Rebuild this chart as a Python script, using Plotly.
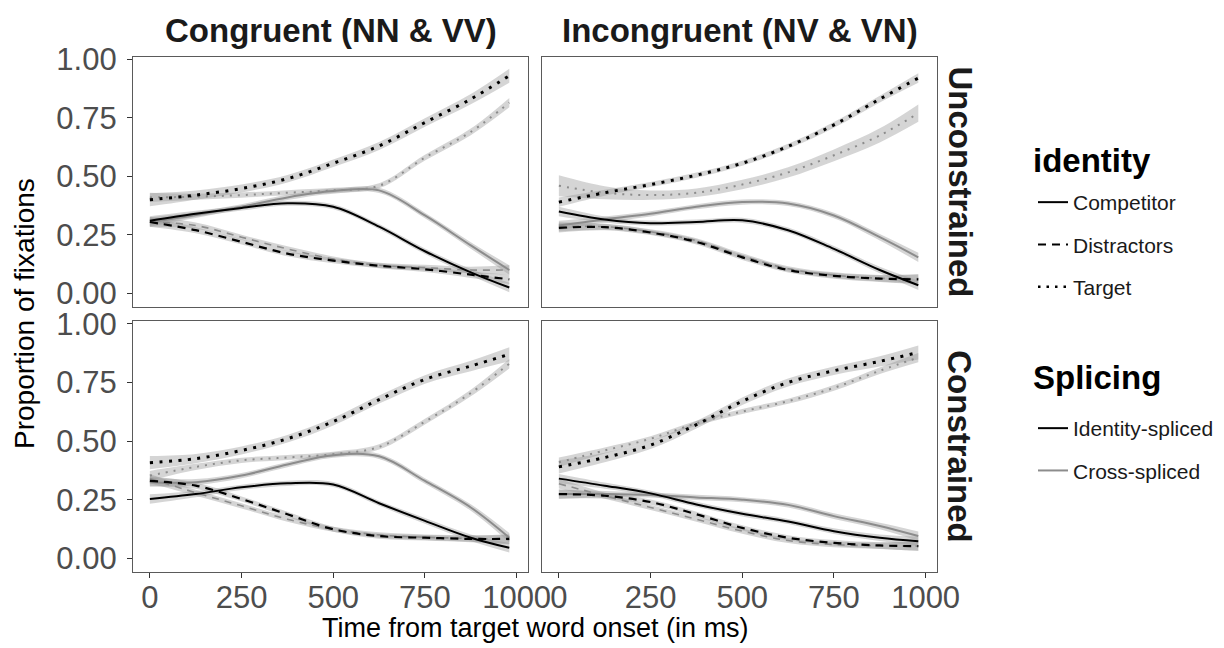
import plotly.graph_objects as go

# ---------------- data ----------------
time_ms = [0, 125, 250, 375, 500, 625, 750, 875, 980]

col_labels = ["Congruent (NN & VV)", "Incongruent (NV & VN)"]
row_labels = ["Unconstrained", "Constrained"]
identity_levels = ["Competitor", "Distractors", "Target"]
splicing_levels = ["Identity-spliced", "Cross-spliced"]

x_ticks = [0, 250, 500, 750, 1000]
x_tick_text = ["0", "250", "500", "750", "1000"]
y_ticks = [0, 0.25, 0.5, 0.75, 1.0]
y_tick_text = ["0.00", "0.25", "0.50", "0.75", "1.00"]

# Congruent / Unconstrained
cong_unc_target_id = [0.40, 0.42, 0.448, 0.49, 0.556, 0.63, 0.73, 0.83, 0.93]
cong_unc_target_cross = [0.41, 0.413, 0.42, 0.43, 0.44, 0.46, 0.58, 0.69, 0.815]
cong_unc_comp_id = [0.31, 0.34, 0.365, 0.385, 0.37, 0.285, 0.18, 0.09, 0.025]
cong_unc_comp_cross = [0.305, 0.335, 0.37, 0.41, 0.437, 0.44, 0.333, 0.205, 0.10]
cong_unc_dist_id = [0.305, 0.27, 0.22, 0.17, 0.14, 0.118, 0.103, 0.08, 0.06]
cong_unc_dist_cross = [0.305, 0.29, 0.24, 0.19, 0.147, 0.12, 0.11, 0.10, 0.10]

# Incongruent / Unconstrained
inc_unc_target_id = [0.39, 0.43, 0.465, 0.505, 0.556, 0.628, 0.72, 0.83, 0.92]
inc_unc_target_cross = [0.46, 0.43, 0.42, 0.43, 0.465, 0.517, 0.59, 0.675, 0.77]
inc_unc_comp_id = [0.35, 0.316, 0.30, 0.305, 0.312, 0.27, 0.19, 0.10, 0.035]
inc_unc_comp_cross = [0.29, 0.316, 0.34, 0.37, 0.39, 0.384, 0.333, 0.24, 0.154]
inc_unc_dist_id = [0.28, 0.283, 0.26, 0.22, 0.154, 0.10, 0.075, 0.063, 0.06]
inc_unc_dist_cross = [0.284, 0.285, 0.263, 0.225, 0.16, 0.105, 0.078, 0.065, 0.063]

# Congruent / Constrained
cong_con_target_id = [0.408, 0.425, 0.46, 0.51, 0.583, 0.677, 0.763, 0.82, 0.87]
cong_con_target_cross = [0.353, 0.39, 0.418, 0.43, 0.444, 0.475, 0.583, 0.705, 0.83]
cong_con_comp_id = [0.253, 0.274, 0.303, 0.32, 0.315, 0.235, 0.16, 0.088, 0.045]
cong_con_comp_cross = [0.325, 0.325, 0.353, 0.40, 0.44, 0.435, 0.33, 0.217, 0.088]
cong_con_dist_id = [0.33, 0.31, 0.253, 0.188, 0.124, 0.095, 0.088, 0.083, 0.083]
cong_con_dist_cross = [0.34, 0.28, 0.224, 0.167, 0.124, 0.10, 0.09, 0.085, 0.08]

# Incongruent / Constrained
inc_con_target_id = [0.39, 0.43, 0.483, 0.57, 0.67, 0.75, 0.80, 0.84, 0.878]
inc_con_target_cross = [0.41, 0.46, 0.51, 0.576, 0.626, 0.67, 0.727, 0.80, 0.856]
inc_con_comp_id = [0.34, 0.31, 0.277, 0.23, 0.19, 0.157, 0.116, 0.088, 0.073]
inc_con_comp_cross = [0.274, 0.274, 0.27, 0.26, 0.25, 0.228, 0.18, 0.138, 0.095]
inc_con_dist_id = [0.274, 0.267, 0.24, 0.188, 0.13, 0.088, 0.066, 0.055, 0.052]
inc_con_dist_cross = [0.318, 0.267, 0.217, 0.167, 0.116, 0.076, 0.059, 0.054, 0.052]

# standard-error ribbons (half widths)
se_default = [0.02, 0.013, 0.011, 0.011, 0.011, 0.011, 0.012, 0.014, 0.02]
se_target = [0.028, 0.02, 0.017, 0.016, 0.016, 0.017, 0.018, 0.022, 0.03]
se_wide = [0.045, 0.028, 0.02, 0.018, 0.02, 0.022, 0.025, 0.03, 0.037]

# ---------------- table ----------------
series = [
    # (row, col, identity, splicing, values, se)
    (0, 0, "Target", "Identity-spliced", cong_unc_target_id, se_target),
    (0, 0, "Target", "Cross-spliced", cong_unc_target_cross, se_default),
    (0, 0, "Competitor", "Identity-spliced", cong_unc_comp_id, se_default),
    (0, 0, "Competitor", "Cross-spliced", cong_unc_comp_cross, se_default),
    (0, 0, "Distractors", "Identity-spliced", cong_unc_dist_id, se_default),
    (0, 0, "Distractors", "Cross-spliced", cong_unc_dist_cross, se_default),
    (0, 1, "Target", "Identity-spliced", inc_unc_target_id, se_default),
    (0, 1, "Target", "Cross-spliced", inc_unc_target_cross, se_wide),
    (0, 1, "Competitor", "Identity-spliced", inc_unc_comp_id, se_default),
    (0, 1, "Competitor", "Cross-spliced", inc_unc_comp_cross, se_default),
    (0, 1, "Distractors", "Identity-spliced", inc_unc_dist_id, se_default),
    (0, 1, "Distractors", "Cross-spliced", inc_unc_dist_cross, se_default),
    (1, 0, "Target", "Identity-spliced", cong_con_target_id, se_target),
    (1, 0, "Target", "Cross-spliced", cong_con_target_cross, se_default),
    (1, 0, "Competitor", "Identity-spliced", cong_con_comp_id, se_default),
    (1, 0, "Competitor", "Cross-spliced", cong_con_comp_cross, se_default),
    (1, 0, "Distractors", "Identity-spliced", cong_con_dist_id, se_default),
    (1, 0, "Distractors", "Cross-spliced", cong_con_dist_cross, se_default),
    (1, 1, "Target", "Identity-spliced", inc_con_target_id, se_target),
    (1, 1, "Target", "Cross-spliced", inc_con_target_cross, se_default),
    (1, 1, "Competitor", "Identity-spliced", inc_con_comp_id, se_default),
    (1, 1, "Competitor", "Cross-spliced", inc_con_comp_cross, se_default),
    (1, 1, "Distractors", "Identity-spliced", inc_con_dist_id, se_default),
    (1, 1, "Distractors", "Cross-spliced", inc_con_dist_cross, se_default),
]

# ---------------- styles ----------------
FONT = "Liberation Sans, Arial, Helvetica, sans-serif"
OFF = 8                      # page (body) margin in the browser
W, H = 1224 - OFF, 648 - OFF


def fx(px):                  # screen x pixel -> paper fraction
    return (px - OFF) / W


def fy(py):                  # screen y pixel -> paper fraction
    return 1 - (py - OFF) / H


colour = {"Identity-spliced": "#000000", "Cross-spliced": "#8c8c8c"}
dash = {
    ("Competitor", "Identity-spliced"): ("solid", 2.0),
    ("Competitor", "Cross-spliced"): ("solid", 2.0),
    ("Distractors", "Identity-spliced"): ("8px,6px", 2.2),
    ("Distractors", "Cross-spliced"): ("7px,6px", 1.6),
    ("Target", "Identity-spliced"): ("3px,6.5px", 3.0),
    ("Target", "Cross-spliced"): ("2px,6px", 2.0),
}
ribbon_fill = "rgba(150,150,150,0.40)"

# panel pixel boxes (screen) -> paper domains
px_x = [(133, 528), (542, 937)]
px_y = [(56.5, 306.5), (321, 571.5)]
x_dom = [[fx(a), fx(b)] for a, b in px_x]
y_dom = [[fy(b), fy(a)] for a, b in px_y]
x_range = [-46, 1031]
y_range = [-0.056, 1.012]


def axis_ids(r, c):
    k = r * 2 + c + 1
    s = "" if k == 1 else str(k)
    return "x" + s, "y" + s


fig = go.Figure()

# ribbons first
for r, c, ident, spl, vals, se in series:
    xa, ya = axis_ids(r, c)
    lo = [v - s for v, s in zip(vals, se)]
    hi = [v + s for v, s in zip(vals, se)]
    fig.add_trace(go.Scatter(x=time_ms, y=lo, xaxis=xa, yaxis=ya, mode="lines",
                             line=dict(width=0, shape="spline"), showlegend=False,
                             hoverinfo="skip"))
    fig.add_trace(go.Scatter(x=time_ms, y=hi, xaxis=xa, yaxis=ya, mode="lines",
                             line=dict(width=0, shape="spline"), fill="tonexty",
                             fillcolor=ribbon_fill, showlegend=False, hoverinfo="skip"))

# lines: cross-spliced below identity-spliced
for spl_order in ["Cross-spliced", "Identity-spliced"]:
    for r, c, ident, spl, vals, se in series:
        if spl != spl_order:
            continue
        xa, ya = axis_ids(r, c)
        d, w = dash[(ident, spl)]
        fig.add_trace(go.Scatter(x=time_ms, y=vals, xaxis=xa, yaxis=ya, mode="lines",
                                 line=dict(color=colour[spl], width=w, dash=d, shape="spline"),
                                 name=f"{ident} / {spl}", showlegend=False))

# legend entries
leg_identity = [("Competitor", "solid", 2.0), ("Distractors", "8px,6px", 2.0),
                ("Target", "2.5px,6px", 2.5)]
for name, d, w in leg_identity:
    fig.add_trace(go.Scatter(x=[None], y=[None], mode="lines", name=name,
                             line=dict(color="#000000", width=w, dash=d),
                             legend="legend", legendgroup=name))
for name in splicing_levels:
    fig.add_trace(go.Scatter(x=[None], y=[None], mode="lines", name=name,
                             line=dict(color=colour[name], width=2.0),
                             legend="legend2", legendgroup=name))

axis_common = dict(showgrid=False, zeroline=False, showline=True, mirror=True,
                   linecolor="#5a5a5a", linewidth=1.2,
                   tickfont=dict(family=FONT, size=31, color="#4d4d4d"),
                   tickcolor="#333333", ticklen=5, tickwidth=1.2)

layout = dict(width=W, height=H,
              margin=dict(l=0, r=0, t=0, b=0, pad=0, autoexpand=False),
              paper_bgcolor="white", plot_bgcolor="white",
              font=dict(family=FONT, color="#000000"))

for r in range(2):
    for c in range(2):
        xa, ya = axis_ids(r, c)
        xk = "xaxis" + xa[1:]
        yk = "yaxis" + ya[1:]
        layout[xk] = dict(axis_common, domain=x_dom[c], range=x_range, anchor=ya,
                          tickvals=x_ticks, ticktext=x_tick_text,
                          ticks="outside" if r == 1 else "",
                          showticklabels=(r == 1), ticklabelstandoff=-7)
        layout[yk] = dict(axis_common, domain=y_dom[r], range=y_range, anchor=xa,
                          tickvals=y_ticks, ticktext=y_tick_text,
                          ticks="outside" if c == 0 else "",
                          showticklabels=(c == 0), ticklabelstandoff=4)

legend_common = dict(font=dict(size=21, family=FONT, color="#1a1a1a"),
                     x=fx(1033), xanchor="left", yanchor="top",
                     tracegroupgap=12, bgcolor="rgba(0,0,0,0)", itemwidth=30,
                     borderwidth=0)
layout["legend"] = dict(legend_common, y=fy(182))
layout["legend2"] = dict(legend_common, y=fy(408))

annotations = []
for c, lab in enumerate(col_labels):
    annotations.append(dict(text=f"<b>{lab}</b>", x=sum(x_dom[c]) / 2, y=fy(30),
                            xref="paper", yref="paper", showarrow=False,
                            xanchor="center", yanchor="middle",
                            font=dict(size=33, family=FONT, color="#1a1a1a")))
for r, lab in enumerate(row_labels):
    annotations.append(dict(text=f"<b>{lab}</b>", x=fx(960), y=sum(y_dom[r]) / 2,
                            xref="paper", yref="paper", showarrow=False, textangle=90,
                            xanchor="center", yanchor="middle",
                            font=dict(size=33, family=FONT, color="#1a1a1a")))
for title, yc in [("identity", 160), ("Splicing", 377)]:
    annotations.append(dict(text=f"<b>{title}</b>", x=fx(1031), y=fy(yc),
                            xref="paper", yref="paper", showarrow=False,
                            xanchor="left", yanchor="middle",
                            font=dict(size=33, family=FONT, color="#000000")))
annotations.append(dict(text="Proportion of fixations", x=fx(24),
                        y=(y_dom[0][1] + y_dom[1][0]) / 2, xref="paper", yref="paper",
                        showarrow=False, textangle=-90, xanchor="center", yanchor="middle",
                        font=dict(size=28, family=FONT, color="#000000")))
annotations.append(dict(text="Time from target word onset (in ms)",
                        x=(x_dom[0][0] + x_dom[1][1]) / 2, y=fy(628),
                        xref="paper", yref="paper", showarrow=False,
                        xanchor="center", yanchor="middle",
                        font=dict(size=27, family=FONT, color="#000000")))
layout["annotations"] = annotations

fig.update_layout(**layout)
fig.write_html("out.html")
